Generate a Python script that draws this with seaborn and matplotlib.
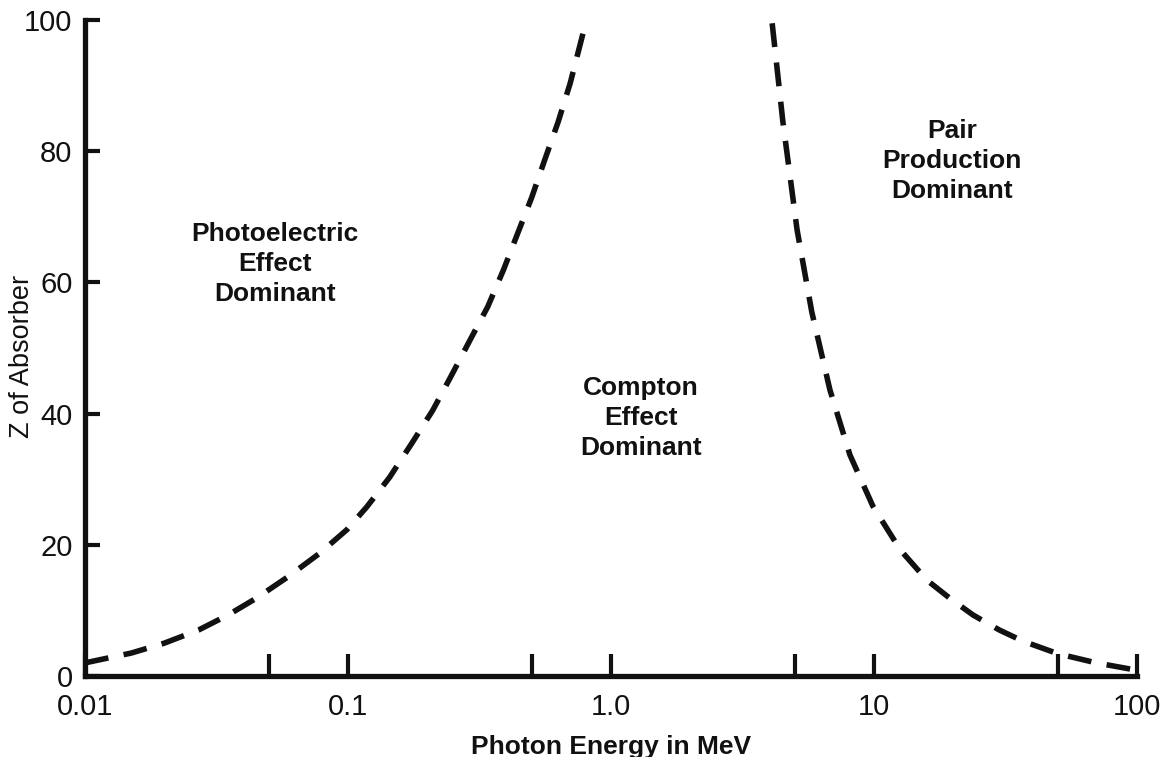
import pandas as pd
import matplotlib
matplotlib.use("Agg")
import matplotlib.pyplot as plt
import seaborn as sns

# boundary where photoelectric and Compton are equally likely
photo_energy = [0.01, 0.015, 0.02, 0.027, 0.035, 0.045, 0.059, 0.078, 0.099, 0.118, 0.144,
                0.175, 0.21, 0.248, 0.291, 0.34, 0.39, 0.44, 0.50, 0.56, 0.63, 0.70, 0.783]
photo_z = [2, 3.5, 5, 7, 9.3, 11.9, 15.1, 18.7, 22.3, 25.8, 30.3,
           35.5, 40.5, 45.9, 51.2, 56.3, 61.9, 67.3, 73, 78.7, 84.5, 90.4, 98]

# boundary where Compton and pair production are equally likely
pair_energy = [4.1, 4.5, 5.1, 5.8, 6.8, 8.1, 9.9, 12.6, 15.9, 19.5, 23.8, 30, 36.9, 50, 70, 96]
pair_z = [99.5, 84.6, 68, 55.5, 43.6, 33.7, 25.9, 19.2, 14.6, 11.8, 9.3, 7, 5.3, 3.4, 2, 1]

x_ticks = [0.01, 0.05, 0.1, 0.5, 1, 5, 10, 50, 100]
x_labels = ["0.01", "", "0.1", "", "1.0", "", "10", "", "100"]
y_ticks = [0, 20, 40, 60, 80, 100]

regions = [
    ("Photoelectric\nEffect\nDominant", 0.0527, 62.8),
    ("Compton\nEffect\nDominant", 1.30, 39.3),
    ("Pair\nProduction\nDominant", 19.8, 78.5),
]

sns.set_style("ticks")
plt.rcParams["font.family"] = ["Liberation Sans", "DejaVu Sans"]

fig = plt.figure(figsize=(11.69, 7.57), dpi=100)
ax = fig.add_axes([85 / 1169, 81 / 757, (1137 - 85) / 1169, (676 - 20) / 757])

photo_df = pd.DataFrame({"energy": photo_energy, "z": photo_z})
pair_df = pd.DataFrame({"energy": pair_energy, "z": pair_z})
for df in (photo_df, pair_df):
    sns.lineplot(data=df, x="energy", y="z", ax=ax, color="#111111",
                 linewidth=4, estimator=None, sort=False)
    ax.lines[-1].set_dashes((4.3, 2.8))
    ax.lines[-1].set_dash_capstyle("butt")

ax.set_xscale("log")
ax.set_xlim(0.01, 100)
ax.set_ylim(0, 100)
ax.set_xticks(x_ticks)
ax.set_xticklabels(x_labels)
ax.minorticks_off()
ax.set_yticks(y_ticks)

ax.tick_params(axis="x", direction="in", length=16, width=3, pad=12,
               labelsize=21, colors="#111111")
ax.tick_params(axis="y", direction="in", length=11, width=3, pad=9,
               labelsize=21, colors="#111111")

sns.despine(ax=ax)
for side in ("left", "bottom"):
    ax.spines[side].set_linewidth(3.8)
    ax.spines[side].set_color("#111111")
    ax.spines[side].set_capstyle("projecting")

ax.set_xlabel("")
ax.set_ylabel("")

for text, x, y in regions:
    ax.text(x, y, text, ha="center", va="center", fontsize=19, fontweight="bold",
            color="#111111", linespacing=1.33)

fig.text(611 / 1169, 3 / 757, "Photon Energy in MeV", ha="center", va="baseline",
         fontsize=19, fontweight="bold", color="#111111")
fig.text(22 / 1169, 1 - 356 / 757, "Z of Absorber", ha="center", va="center",
         rotation=90, fontsize=19.5, color="#111111")

fig.savefig("out.png", dpi=100)
